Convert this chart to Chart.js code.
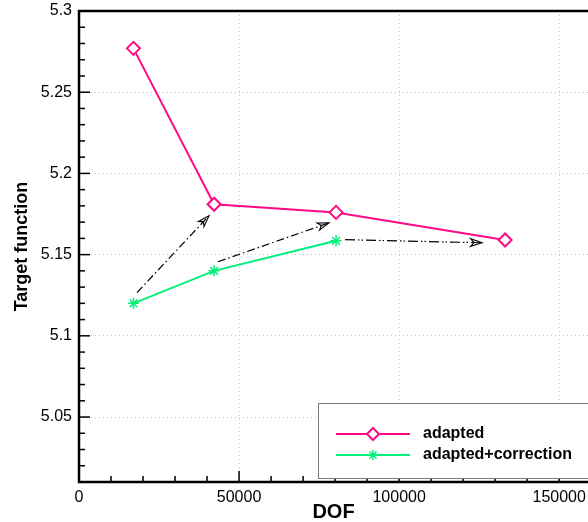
<!DOCTYPE html>
<html>
<head>
<meta charset="utf-8">
<script src="https://cdn.jsdelivr.net/npm/chart.js@4.4.0/dist/chart.umd.min.js"></script>
<style>
  html, body { margin: 0; padding: 0; background: #fff; }
</style>
</head>
<body>
<canvas id="c" width="588" height="522"></canvas>
<script>
// values
const seriesLabels = ['adapted', 'adapted+correction'];
const dofAdapted = [17000, 42200, 80300, 133100];
const valAdapted = [5.277, 5.181, 5.176, 5.159];
const dofCorrected = [17000, 42200, 80300];
const valCorrected = [5.120, 5.140, 5.1585];

// dash-dot arrows from each corrected point to the next adapted one
const arrowFromX = [18100, 43400, 83100];
const arrowFromY = [5.1266, 5.1456, 5.1592];
const arrowToX = [40600, 78100, 125900];
const arrowToY = [5.1739, 5.1696, 5.1573];

const yTickLabels = [5.05, 5.1, 5.15, 5.2, 5.25, 5.3];
const xTickLabels = [0, 50000, 100000, 150000];
const xMinorStep = 10000;

const pink = '#ff0a84';
const green = '#00f07a';
const font = '"Liberation Sans", Arial, Helvetica, sans-serif';

function isMajorY(v) { return yTickLabels.some(l => Math.abs(l - v) < 1e-6); }
function isMajorX(v) { return xTickLabels.some(l => Math.abs(l - v) < 1e-3); }

const arrowSets = arrowFromX.map((x, i) => ({
  label: 'arrow' + i,
  arrow: true,
  data: [{ x: x, y: arrowFromY[i] }, { x: arrowToX[i], y: arrowToY[i] }],
  borderColor: '#000',
  borderWidth: 1.2,
  borderDash: i === 2 ? [10, 3, 1.5, 2, 1.5, 3] : [8, 3, 1.5, 3],
  pointRadius: 0,
  showLine: true,
  fill: false
}));

// arrowheads, frame, inward ticks and legend box
const decorations = {
  id: 'decorations',
  afterDatasetsDraw(chart) {
    const ctx = chart.ctx;
    chart.data.datasets.forEach((ds, i) => {
      if (!ds.arrow) return;
      const pts = chart.getDatasetMeta(i).data;
      const a = pts[0], b = pts[1];
      const ang = Math.atan2(b.y - a.y, b.x - a.x);
      const len = 12, spread = 0.32, notch = 8;
      ctx.save();
      ctx.strokeStyle = '#000';
      ctx.lineWidth = 1.1;
      ctx.beginPath();
      ctx.moveTo(b.x, b.y);
      ctx.lineTo(b.x - len * Math.cos(ang - spread), b.y - len * Math.sin(ang - spread));
      ctx.lineTo(b.x - notch * Math.cos(ang), b.y - notch * Math.sin(ang));
      ctx.lineTo(b.x - len * Math.cos(ang + spread), b.y - len * Math.sin(ang + spread));
      ctx.closePath();
      ctx.stroke();
      ctx.restore();
    });
  },
  afterDraw(chart) {
    const ctx = chart.ctx;
    const ca = chart.chartArea;
    const xs = chart.scales.x, ys = chart.scales.y;
    ctx.save();
    ctx.strokeStyle = '#000';

    // inward tick marks
    ctx.lineWidth = 1.5;
    ys.ticks.forEach(t => {
      const py = ys.getPixelForValue(t.value);
      const l = isMajorY(t.value) ? 11 : 6;
      ctx.beginPath();
      ctx.moveTo(ca.left, py);
      ctx.lineTo(ca.left + l, py);
      ctx.stroke();
    });
    xs.ticks.forEach(t => {
      const px = xs.getPixelForValue(t.value);
      const l = isMajorX(t.value) ? 11 : 6;
      ctx.beginPath();
      ctx.moveTo(px, ca.bottom);
      ctx.lineTo(px, ca.bottom - l);
      ctx.stroke();
    });

    // frame (right side runs off the canvas)
    ctx.lineWidth = 2.5;
    ctx.beginPath();
    ctx.moveTo(chart.width + 5, ca.top);
    ctx.lineTo(ca.left, ca.top);
    ctx.lineTo(ca.left, ca.bottom);
    ctx.lineTo(chart.width + 5, ca.bottom);
    ctx.stroke();

    // legend box
    const bx = 318.5, by = 403.5;
    ctx.fillStyle = '#fff';
    ctx.fillRect(bx, by, 300, 75);
    ctx.strokeStyle = '#7a7a7a';
    ctx.lineWidth = 1;
    ctx.strokeRect(bx, by, 300, 75);

    const rows = [
      { y: 434, color: pink, marker: 'rectRot', r: 6 },
      { y: 455, color: green, marker: 'star', r: 5 }
    ];
    rows.forEach((row, i) => {
      ctx.strokeStyle = row.color;
      ctx.lineWidth = 2;
      ctx.beginPath();
      ctx.moveTo(336, row.y);
      ctx.lineTo(410, row.y);
      ctx.stroke();
      ctx.fillStyle = '#fff';
      ctx.lineWidth = i === 0 ? 2 : 1.5;
      Chart.helpers.drawPoint(ctx, { pointStyle: row.marker, radius: row.r, rotation: 0, borderWidth: ctx.lineWidth }, 373, row.y);
      ctx.fillStyle = '#000';
      ctx.font = 'bold 16px ' + font;
      ctx.textBaseline = 'middle';
      ctx.textAlign = 'left';
      ctx.fillText(seriesLabels[i], 423, row.y);
    });
    ctx.restore();
  }
};

new Chart(document.getElementById('c'), {
  type: 'scatter',
  data: {
    datasets: [
      {
        label: seriesLabels[0],
        data: dofAdapted.map((x, i) => ({ x: x, y: valAdapted[i] })),
        borderColor: pink,
        borderWidth: 2,
        showLine: true,
        pointStyle: 'rectRot',
        pointRadius: 6.5,
        pointBorderWidth: 2,
        pointBackgroundColor: '#fff',
        pointBorderColor: pink
      },
      {
        label: seriesLabels[1],
        data: dofCorrected.map((x, i) => ({ x: x, y: valCorrected[i] })),
        borderColor: green,
        borderWidth: 2,
        showLine: true,
        pointStyle: 'star',
        pointRadius: 5.5,
        pointBorderWidth: 1.5,
        pointBorderColor: green
      },
      ...arrowSets
    ]
  },
  options: {
    responsive: false,
    animation: false,
    layout: { autoPadding: false, padding: { top: 11, right: 0, left: 0, bottom: 0 } },
    plugins: { legend: { display: false }, tooltip: { enabled: false } },
    scales: {
      x: {
        type: 'linear',
        min: 0,
        max: 159000,
        afterBuildTicks: s => {
          const t = [];
          for (let v = 0; v <= xTickLabels[xTickLabels.length - 1]; v += xMinorStep) t.push({ value: v });
          s.ticks = t;
        },
        afterFit: s => { s.height = 40; s.paddingLeft = 0; s.paddingRight = 0; },
        ticks: {
          autoSkip: false,
          maxRotation: 0,
          minRotation: 0,
          padding: 6,
          color: '#000',
          font: { family: font, size: 16 },
          callback: v => isMajorX(v) ? String(Math.round(v)) : ''
        },
        grid: {
          drawTicks: false,
          lineWidth: 1,
          color: c => (c.tick && isMajorX(c.tick.value) && c.tick.value !== 0) ? '#c4c4c4' : 'transparent'
        },
        border: { display: false, dash: [1, 3] },
        title: {
          display: true,
          text: 'DOF',
          color: '#000',
          font: { family: font, size: 20, weight: 'bold', lineHeight: 1 },
          padding: { top: 0, bottom: 0 }
        }
      },
      y: {
        type: 'linear',
        min: 5.01,
        max: 5.3,
        afterFit: s => { s.width = 79; s.paddingTop = 0; s.paddingBottom = 0; },
        ticks: {
          stepSize: 0.01,
          maxTicksLimit: 100,
          autoSkip: false,
          padding: 7,
          color: '#000',
          font: { family: font, size: 16 },
          callback: v => {
            const l = yTickLabels.find(t => Math.abs(t - v) < 1e-6);
            return l === undefined ? '' : String(l);
          }
        },
        grid: {
          drawTicks: false,
          lineWidth: 1,
          color: c => (c.tick && isMajorY(c.tick.value) && Math.abs(c.tick.value - 5.3) > 1e-6) ? '#c4c4c4' : 'transparent'
        },
        border: { display: false, dash: [1, 3] },
        title: {
          display: true,
          text: 'Target function',
          color: '#000',
          font: { family: font, size: 18, weight: 'bold', lineHeight: 1.2 },
          padding: { top: 11, bottom: 0 }
        }
      }
    }
  },
  plugins: [decorations]
});
</script>
</body>
</html>
